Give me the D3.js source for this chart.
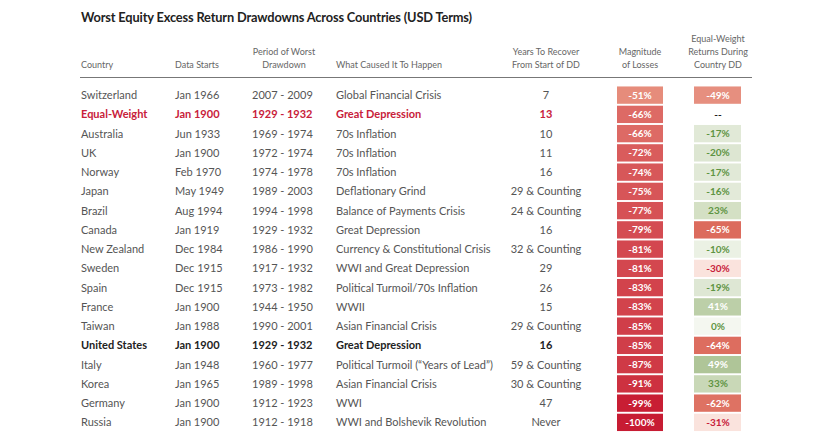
<!DOCTYPE html>
<html><head><meta charset="utf-8">
<script src="https://cdn.jsdelivr.net/npm/d3@7"></script>
<style>
html,body{margin:0;padding:0;background:#fff;}
svg{display:block;font-family:Lato,"Open Sans",sans-serif;}
</style></head><body>
<svg id="c" width="834" height="446"></svg>
<script>
const countries = ["Switzerland","Equal-Weight","Australia","UK","Norway","Japan","Brazil","Canada","New Zealand","Sweden","Spain","France","Taiwan","United States","Italy","Korea","Germany","Russia"];
const dataStarts = ["Jan 1966","Jan 1900","Jun 1933","Jan 1900","Feb 1970","May 1949","Aug 1994","Jan 1919","Dec 1984","Dec 1915","Dec 1915","Jan 1900","Jan 1988","Jan 1900","Jan 1948","Jan 1965","Jan 1900","Jan 1900"];
const periods = ["2007 - 2009","1929 - 1932","1969 - 1974","1972 - 1974","1974 - 1978","1989 - 2003","1994 - 1998","1929 - 1932","1986 - 1990","1917 - 1932","1973 - 1982","1944 - 1950","1990 - 2001","1929 - 1932","1960 - 1977","1989 - 1998","1912 - 1923","1912 - 1918"];
const causes = ["Global Financial Crisis","Great Depression","70s Inflation","70s Inflation","70s Inflation","Deflationary Grind","Balance of Payments Crisis","Great Depression","Currency & Constitutional Crisis","WWI and Great Depression","Political Turmoil/70s Inflation","WWII","Asian Financial Crisis","Great Depression","Political Turmoil (\u201cYears of Lead\u201d)","Asian Financial Crisis","WWI","WWI and Bolshevik Revolution"];
const yearsToRecover = ["7","13","10","11","16","29 & Counting","24 & Counting","16","32 & Counting","29","26","15","29 & Counting","16","59 & Counting","30 & Counting","47","Never"];
const magnitude = [-51,-66,-66,-72,-74,-75,-77,-79,-81,-81,-83,-83,-85,-85,-87,-91,-99,-100];
const ewReturns = [-49,null,-17,-20,-17,-16,23,-65,-10,-30,-19,41,0,-64,49,33,-62,-31];
const headers = [["Country"],["Data Starts"],["Period of Worst","Drawdown"],["What Caused It To Happen"],["Years To Recover","From Start of DD"],["Magnitude","of Losses"],["Equal-Weight","Returns During","Country DD"]];

const svg = d3.select("#c");
const y = d3.scaleBand().domain(d3.range(countries.length)).range([85.5, 432]).paddingInner(0.1).paddingOuter(0.05);
const magColor = d3.scaleLinear().domain([-100,-51]).range(["#c71c33","#e68c7b"]).interpolate(d3.interpolateRgb);
const ewColor = d3.scaleLinear()
  .domain([-65,-49,-31,-30,-20,-10,0,23,33,49])
  .range(["#dc6b5d","#e68f7f","#fae3dd","#fae3dd","#dde6d2","#ebf1e4","#f4f7f0","#d4e0c4","#c9d8b7","#afc598"]);
const ewText = v => v == null ? "#222" : (v <= -40 || v >= 40) ? "#fff" : (v < -25 ? "#c8203a" : "#5e9443");

// title
svg.append("text").attr("x",81).attr("y",22).attr("font-size",12.8).attr("letter-spacing",-0.15).attr("font-weight",700).attr("fill","#222")
  .text("Worst Equity Excess Return Drawdowns Across Countries (USD Terms)");

// headers
const colX = [81,175,284,336,546,640,718];
const colAnchor = ["start","start","middle","start","middle","middle","middle"];
headers.forEach((lines,i)=>{
  const n = lines.length;
  lines.forEach((l,j)=>{
    svg.append("text").attr("x",colX[i]).attr("y",68 - (n-1-j)*13)
      .attr("text-anchor",colAnchor[i]).attr("font-size",9).attr("fill","#666").text(l);
  });
});
svg.append("line").attr("x1",80).attr("x2",752).attr("y1",77.5).attr("y2",77.5).attr("stroke","#777").attr("stroke-width",1);

const styleOf = i => countries[i]==="Equal-Weight" ? {fill:"#c8203a",w:700} : countries[i]==="United States" ? {fill:"#222",w:700} : {fill:"#555",w:400};

const rows = svg.append("g").selectAll("g").data(countries.map((c,i)=>i)).join("g")
  .attr("transform", i=>`translate(0,${y(i)})`);
const bh = y.bandwidth();
const tY = bh/2 + 4;
const textCols = [countries, dataStarts, periods, causes];
const textX = [81,175,252,336];
textCols.forEach((arr,k)=>{
  rows.append("text").attr("x",textX[k]).attr("y",tY).attr("font-size",11)
    .attr("fill",i=>styleOf(i).fill).attr("font-weight",i=>styleOf(i).w).text(i=>arr[i]);
});
rows.append("text").attr("x",546).attr("y",tY).attr("text-anchor","middle").attr("font-size",11)
  .attr("fill",i=>styleOf(i).fill).attr("font-weight",i=>styleOf(i).w).text(i=>yearsToRecover[i]);

// magnitude cells
rows.append("rect").attr("x",617).attr("width",46).attr("y",0).attr("height",bh).attr("fill",i=>magColor(magnitude[i]));
rows.append("text").attr("x",640).attr("y",tY-0.5).attr("text-anchor","middle").attr("font-size",10).attr("font-weight",700)
  .attr("fill","#fff").text(i=>magnitude[i]+"%");

// equal-weight cells
rows.filter(i=>ewReturns[i]!=null).append("rect").attr("x",694).attr("width",47).attr("y",0).attr("height",bh)
  .attr("fill",i=>ewColor(ewReturns[i]));
rows.append("text").attr("x",718).attr("y",tY-0.5).attr("text-anchor","middle").attr("font-size",10).attr("font-weight",700)
  .attr("fill",i=>ewText(ewReturns[i])).text(i=>ewReturns[i]==null ? "--" : ewReturns[i]+"%");
</script></body></html>
